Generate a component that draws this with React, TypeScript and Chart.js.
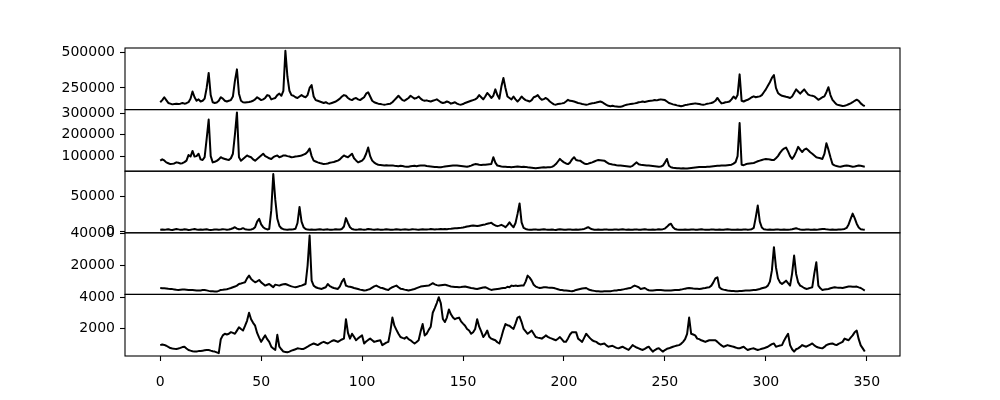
import React, { useEffect, useRef } from "react";
import { Chart, registerables } from "chart.js";

Chart.register(...registerables);

const xTicks = [0, 50, 100, 150, 200, 250, 300, 350];

const yTicks1 = [250000, 500000];
const yTicks2 = [100000, 200000, 300000];
const yTicks3 = [0, 50000];
const yTicks4 = [20000, 40000];
const yTicks5 = [2000, 4000];

const series1 = [
  150000, 165000, 185000, 165000, 145000, 140000, 135000, 138000, 140000, 137000,
  140000, 145000, 140000, 143000, 150000, 175000, 225000, 185000, 160000, 170000,
  155000, 160000, 175000, 250000, 355000, 200000, 150000, 145000, 148000, 160000,
  185000, 175000, 160000, 155000, 160000, 165000, 190000, 300000, 380000, 210000,
  160000, 150000, 148000, 150000, 152000, 155000, 160000, 170000, 185000, 175000,
  165000, 170000, 180000, 200000, 195000, 170000, 175000, 180000, 200000, 210000,
  195000, 230000, 510000, 330000, 230000, 200000, 195000, 185000, 180000, 190000,
  200000, 190000, 185000, 200000, 250000, 270000, 190000, 165000, 160000, 155000,
  150000, 145000, 150000, 142000, 140000, 145000, 150000, 155000, 165000, 175000,
  190000, 200000, 195000, 180000, 170000, 165000, 175000, 180000, 170000, 165000,
  175000, 185000, 210000, 220000, 190000, 160000, 150000, 145000, 140000, 138000,
  135000, 133000, 135000, 138000, 140000, 150000, 165000, 180000, 195000, 180000,
  165000, 160000, 170000, 180000, 195000, 185000, 175000, 180000, 190000, 175000,
  165000, 160000, 163000, 158000, 155000, 160000, 165000, 170000, 160000, 150000,
  145000, 148000, 155000, 150000, 140000, 145000, 150000, 140000, 135000, 133000,
  137000, 145000, 150000, 155000, 160000, 165000, 170000, 180000, 200000, 185000,
  170000, 190000, 215000, 200000, 180000, 195000, 240000, 200000, 175000, 260000,
  320000, 250000, 190000, 180000, 170000, 190000, 170000, 155000, 170000, 190000,
  175000, 165000, 160000, 155000, 165000, 185000, 190000, 200000, 180000, 167000,
  172000, 180000, 170000, 155000, 145000, 135000, 133000, 137000, 140000, 142000,
  145000, 155000, 167000, 160000, 158000, 155000, 150000, 145000, 142000, 138000,
  135000, 132000, 135000, 140000, 143000, 145000, 148000, 152000, 155000, 150000,
  140000, 132000, 125000, 122000, 125000, 122000, 120000, 118000, 118000, 122000,
  128000, 132000, 135000, 138000, 140000, 142000, 145000, 150000, 152000, 155000,
  152000, 155000, 158000, 160000, 162000, 165000, 163000, 167000, 170000, 168000,
  165000, 155000, 145000, 140000, 135000, 132000, 128000, 125000, 122000, 125000,
  130000, 132000, 135000, 138000, 140000, 142000, 140000, 137000, 134000, 132000,
  135000, 140000, 142000, 145000, 150000, 160000, 180000, 160000, 142000, 145000,
  150000, 152000, 155000, 170000, 190000, 175000, 200000, 345000, 160000, 155000,
  162000, 167000, 175000, 185000, 191000, 185000, 188000, 191000, 200000, 220000,
  240000, 265000, 290000, 320000, 340000, 250000, 215000, 203000, 195000, 192000,
  188000, 185000, 180000, 190000, 215000, 240000, 225000, 210000, 225000, 240000,
  220000, 203000, 198000, 195000, 191000, 180000, 167000, 175000, 185000, 191000,
  220000, 255000, 200000, 167000, 150000, 135000, 130000, 127000, 123000, 125000,
  130000, 136000, 142000, 150000, 160000, 168000, 160000, 142000, 130000, 122000,
];

const series2 = [
  79000, 85000, 80000, 71000, 67000, 63000, 64000, 66000, 71000, 69000,
  66000, 67000, 72000, 79000, 105000, 98000, 124000, 98000, 100000, 111000,
  85000, 82000, 95000, 180000, 270000, 100000, 71000, 74000, 78000, 85000,
  95000, 90000, 87000, 84000, 82000, 90000, 111000, 200000, 303000, 95000,
  79000, 87000, 95000, 103000, 98000, 95000, 85000, 79000, 87000, 95000,
  103000, 111000, 100000, 95000, 90000, 87000, 95000, 100000, 103000, 95000,
  98000, 103000, 103000, 100000, 98000, 95000, 96000, 98000, 99000, 101000,
  103000, 107000, 111000, 120000, 135000, 100000, 79000, 75000, 71000, 68000,
  66000, 63000, 64000, 66000, 69000, 71000, 73000, 76000, 79000, 85000,
  95000, 103000, 98000, 95000, 103000, 111000, 90000, 80000, 71000, 75000,
  79000, 90000, 111000, 140000, 100000, 79000, 70000, 64000, 60000, 59000,
  58000, 57000, 58000, 56000, 56000, 57000, 55000, 54000, 53000, 55000,
  54000, 52000, 51000, 51000, 53000, 54000, 55000, 53000, 55000, 56000,
  57000, 56000, 54000, 53000, 52000, 51000, 50000, 49000, 48000, 48000,
  50000, 52000, 53000, 54000, 55000, 56000, 57000, 56000, 55000, 54000,
  53000, 52000, 51000, 53000, 56000, 60000, 63000, 62000, 60000, 59000,
  60000, 60000, 61000, 62000, 63000, 95000, 70000, 56000, 54000, 52000,
  51000, 51000, 50000, 49000, 48000, 50000, 51000, 52000, 51000, 50000,
  51000, 50000, 48000, 47000, 46000, 45000, 44000, 45000, 46000, 47000,
  48000, 47000, 48000, 48000, 50000, 55000, 63000, 75000, 87000, 78000,
  71000, 66000, 63000, 70000, 85000, 95000, 82000, 80000, 79000, 72000,
  66000, 63000, 65000, 68000, 71000, 75000, 79000, 82000, 81000, 80000,
  79000, 72000, 66000, 63000, 61000, 60000, 58000, 57000, 56000, 55000,
  54000, 53000, 52000, 51000, 55000, 63000, 71000, 62000, 60000, 59000,
  58000, 57000, 56000, 55000, 54000, 53000, 52000, 51000, 52000, 56000,
  70000, 87000, 55000, 48000, 46000, 45000, 44000, 44000, 43000, 44000,
  43000, 43000, 44000, 45000, 46000, 47000, 48000, 49000, 49000, 50000,
  50000, 51000, 51000, 52000, 53000, 54000, 55000, 55000, 56000, 56000,
  57000, 58000, 59000, 60000, 65000, 72000, 100000, 254000, 60000, 58000,
  62000, 65000, 66000, 67000, 68000, 72000, 76000, 79000, 82000, 85000,
  87000, 86000, 84000, 82000, 82000, 90000, 100000, 115000, 127000, 135000,
  140000, 122000, 100000, 87000, 100000, 120000, 143000, 130000, 119000, 130000,
  135000, 127000, 118000, 111000, 103000, 95000, 92000, 90000, 87000, 110000,
  160000, 130000, 95000, 63000, 57000, 54000, 52000, 51000, 53000, 55000,
  56000, 55000, 53000, 51000, 52000, 54000, 56000, 55000, 53000, 51000,
];

const series3 = [
  2500, 2800, 2300, 2600, 3100, 2400, 2000, 2700, 3300, 2900,
  2200, 2500, 3000, 2600, 2100, 2400, 2900, 3400, 2800, 2300,
  2600, 2200, 2700, 3000, 2500, 2100, 2400, 2800, 2600, 2300,
  2700, 3200, 2900, 2500, 2700, 3500, 4500, 6000, 4000, 3000,
  3500, 4600, 3200, 2600, 2400, 2800, 3600, 6000, 14000, 18000,
  10000, 6000, 4000, 2800, 3500, 30000, 82000, 45000, 18000, 8000,
  4500, 3200, 2800, 2500, 2700, 2600, 3000, 3800, 12000, 35000,
  14000, 6000, 3500, 2600, 2400, 2700, 2500, 2300, 2800, 3100,
  2600, 2400, 2700, 2900, 2500, 2300, 2600, 3000, 2700, 2800,
  3500, 7000, 19000, 12000, 6000, 3500, 2800, 2500, 2700, 3000,
  2600, 2400, 2800, 3400, 3000, 2600, 2400, 2700, 2900, 2500,
  2300, 2600, 3000, 2800, 2500, 2400, 2700, 3100, 2800, 2400,
  2600, 2900, 2700, 2500, 2800, 3200, 2900, 2600, 2400, 2700,
  3000, 2800, 2600, 2900, 3300, 3000, 2700, 2900, 3200, 3500,
  3000, 3300, 3100, 3600, 3900, 4300, 4600, 4400, 4900, 5200,
  5600, 6200, 7000, 7500, 8000, 8450, 8000, 7600, 8200, 8800,
  9400, 10000, 10900, 11500, 12300, 10000, 8450, 7500, 8300, 9400,
  8000, 6000, 9000, 13000, 9000, 6000, 12000, 25000, 40000, 13000,
  5000, 3500, 2700, 2500, 2300, 2600, 2900, 2500, 2200, 2700,
  3000, 2600, 2300, 2500, 2800, 2400, 2100, 2600, 3000, 2700,
  2400, 2200, 2600, 2900, 2500, 2300, 2700, 2400, 2800, 3100,
  3500, 4800, 6000, 4200, 3000, 2500, 2300, 2700, 2500, 2200,
  2600, 2900, 2400, 2200, 2500, 2800, 2600, 2300, 2700, 3000,
  2600, 2400, 2800, 2500, 2200, 2600, 2900, 2500, 2300, 2700,
  3000, 2600, 2300, 2500, 2800, 2400, 2600, 3000, 2800, 3200,
  4000, 6500, 9500, 11000, 6000, 3500, 2700, 2400, 2200, 2500,
  2800, 2400, 2200, 2600, 2900, 2500, 2300, 2700, 3000, 2600,
  2400, 2200, 2500, 2900, 2600, 2300, 2500, 2800, 2400, 2200,
  2600, 3000, 2700, 2400, 2200, 2500, 2800, 2500, 2300, 2600,
  2900, 2500, 2700, 3200, 5000, 20000, 37000, 14000, 5500, 3200,
  2600, 2400, 2700, 2500, 2300, 2600, 2900, 2500, 2300, 2700,
  2500, 2300, 2600, 3000, 3800, 4500, 3600, 2800, 2500, 2300,
  2600, 2900, 2500, 2300, 2700, 2500, 2800, 3200, 3500, 3300,
  2900, 2600, 2400, 2700, 2500, 2300, 2600, 2800, 3000, 3500,
  5000, 10000, 18000, 25400, 19000, 11000, 5500, 3200, 2600, 2200,
];

const series4 = [
  6000, 5900, 5800, 5700, 5500, 5400, 5300, 5100, 4900, 4800,
  4900, 5000, 5000, 4900, 4800, 4800, 4700, 4600, 4500, 4400,
  4500, 4700, 4800, 4500, 4200, 4000, 3900, 3800, 3750, 4200,
  4800, 4900, 5100, 5200, 5600, 6000, 6500, 6900, 7500, 8500,
  8800, 9200, 9600, 12000, 13750, 11700, 10500, 9600, 10200, 11000,
  9500, 8500, 7500, 8000, 8500, 7500, 6500, 8100, 7800, 7500,
  8000, 8300, 8500, 8000, 7500, 7000, 6700, 6500, 6800, 7200,
  7500, 8000, 8500, 20000, 38750, 10600, 7500, 6500, 6000, 5700,
  5400, 6000, 6500, 8500, 7200, 6500, 6000, 5700, 5400, 7000,
  10000, 11700, 7500, 7000, 6800, 6500, 6000, 5700, 5400, 5000,
  4700, 4400, 4600, 5000, 5400, 6200, 7000, 7500, 6800, 6200,
  6000, 5500, 5000, 4800, 5800, 6500, 7000, 7500, 6500, 5600,
  5400, 5000, 4700, 4400, 4700, 5100, 5400, 5900, 6400, 6900,
  7100, 7300, 7400, 7500, 8200, 9000, 8300, 7800, 7500, 7700,
  7900, 8100, 7700, 7300, 6900, 6800, 6700, 6600, 6500, 6600,
  6800, 6900, 6600, 6300, 6000, 5800, 5600, 5400, 5700, 6000,
  6300, 6500, 5900, 5300, 4800, 5000, 5200, 5400, 5600, 5800,
  6000, 6000, 6800, 6500, 7500, 7200, 7500, 7300, 7400, 7500,
  7500, 10000, 13750, 12500, 10600, 8000, 6900, 6400, 6000, 6200,
  6400, 6500, 6300, 6200, 6100, 6000, 5600, 5200, 4800, 4700,
  4500, 4400, 4300, 4100, 4000, 4300, 4800, 5100, 5400, 5700,
  5900, 6000, 5200, 4700, 4400, 4200, 4000, 3900, 3750, 3800,
  3900, 3950, 4000, 4000, 4200, 4400, 4500, 4700, 4800, 5000,
  5300, 5600, 5800, 6000, 6800, 7500, 7000, 6500, 5400, 5700,
  6000, 5200, 4600, 4400, 4500, 4600, 4700, 4800, 4700, 4600,
  4500, 4400, 4400, 4500, 4600, 4700, 4700, 4800, 5000, 5300,
  5600, 5800, 6000, 5900, 5700, 5600, 5500, 5400, 5600, 5800,
  6000, 6300, 6500, 7500, 9500, 12000, 12700, 6500, 5400, 5000,
  4700, 4400, 4300, 4200, 4100, 4000, 4000, 4100, 4200, 4300,
  4400, 4400, 4500, 4600, 4700, 4800, 5100, 5400, 5800, 6200,
  6500, 7500, 10000, 17000, 31500, 19000, 12000, 9500, 8500, 9500,
  10600, 9000, 7500, 15000, 26250, 14800, 9500, 7500, 6800, 6000,
  5400, 5700, 6100, 6500, 15000, 22100, 7500, 5800, 4800, 5000,
  5200, 5400, 5800, 6200, 6500, 6300, 6200, 6100, 6000, 6300,
  6600, 6900, 6900, 6800, 6800, 6900, 6400, 6000, 5200, 4400,
];

const series5 = [
  917, 958, 930, 875, 800, 730, 700, 680, 667, 700,
  740, 790, 812, 700, 604, 560, 520, 500, 510, 530,
  542, 560, 580, 600, 604, 560, 520, 500, 450, 396,
  1300, 1542, 1646, 1600, 1650, 1750, 1700, 1646, 1850, 2062,
  1950, 1854, 2150, 2479, 3000, 2583, 2350, 2167, 1700, 1400,
  1125, 1350, 1542, 1300, 1125, 812, 700, 604, 1580, 812,
  650, 500, 480, 458, 500, 560, 604, 650, 708, 690,
  670, 667, 740, 812, 900, 960, 1021, 970, 917, 1000,
  1080, 1125, 1070, 1021, 1100, 1180, 1229, 1180, 1125, 1200,
  1280, 1333, 2583, 1700, 1333, 1646, 1450, 1229, 1350, 1450,
  1542, 1021, 1150, 1250, 1333, 1230, 1125, 1160, 1200, 1229,
  917, 1000, 1080, 1125, 1800, 2687, 2167, 1900, 1646, 1437,
  1380, 1333, 1437, 1300, 1229, 1120, 1021, 1120, 1229, 1800,
  2271, 1542, 1646, 1900, 2100, 3000, 3300, 3625, 4000, 3600,
  2600, 2400, 2687, 3208, 2900, 2700, 2583, 2650, 2687, 2450,
  2300, 2167, 1950, 1854, 1646, 1750, 1958, 2583, 2100, 1800,
  1437, 1600, 1854, 1450, 1333, 1280, 1229, 1100, 1021, 1437,
  1900, 2271, 2200, 2167, 2050, 1958, 2300, 2687, 2750, 2400,
  1958, 1800, 1646, 1750, 1854, 1650, 1437, 1400, 1370, 1333,
  1430, 1542, 1450, 1380, 1333, 1280, 1229, 1330, 1437, 1280,
  1125, 1125, 1350, 1600, 1750, 1750, 1750, 1333, 1230, 1125,
  1380, 1646, 1500, 1350, 1229, 1160, 1125, 1021, 958, 990,
  1021, 900, 812, 850, 875, 800, 740, 708, 760, 812,
  740, 670, 604, 760, 917, 830, 760, 708, 650, 604,
  680, 760, 812, 650, 500, 600, 680, 708, 600, 500,
  600, 680, 708, 760, 812, 850, 890, 917, 1000, 1125,
  1300, 1646, 2687, 1646, 1600, 1542, 1333, 1300, 1229, 1180,
  1125, 1180, 1229, 1229, 1229, 1229, 1125, 1000, 900, 812,
  860, 917, 880, 840, 812, 760, 720, 708, 760, 812,
  700, 604, 650, 690, 708, 650, 604, 640, 680, 708,
  760, 812, 900, 980, 1021, 812, 850, 890, 917, 1200,
  1437, 1646, 917, 650, 500, 650, 708, 800, 917, 860,
  812, 880, 950, 1021, 900, 812, 760, 730, 708, 800,
  917, 970, 1000, 1021, 960, 917, 1000, 1060, 1125, 1333,
  1280, 1229, 1400, 1542, 1750, 1854, 1300, 900, 708, 500,
];

const panels = [
  { values: series1, ticks: yTicks1 },
  { values: series2, ticks: yTicks2 },
  { values: series3, ticks: yTicks3 },
  { values: series4, ticks: yTicks4 },
  { values: series5, ticks: yTicks5 },
];

const W = 1000;
const H = 400;
const AX_LEFT = 125;
const AX_RIGHT = 900;
const AX_TOP = 48;
const AX_BOTTOM = 356;
const FONT = { family: "DejaVu Sans", size: 14 };

const boxPlugin = {
  id: "panelBox",
  afterDatasetsDraw(chart: any) {
    const { ctx, chartArea } = chart;
    ctx.save();
    ctx.strokeStyle = "#000";
    ctx.lineWidth = 1.1;
    ctx.strokeRect(
      chartArea.left,
      chartArea.top,
      chartArea.right - chartArea.left,
      chartArea.bottom - chartArea.top
    );
    ctx.restore();
  },
};

export default function App() {
  const r0 = useRef<HTMLCanvasElement>(null);
  const r1 = useRef<HTMLCanvasElement>(null);
  const r2 = useRef<HTMLCanvasElement>(null);
  const r3 = useRef<HTMLCanvasElement>(null);
  const r4 = useRef<HTMLCanvasElement>(null);
  const refs = [r0, r1, r2, r3, r4];

  useEffect(() => {
    const n = series1.length;
    const xPad = 0.05 * (n - 1);
    const xMin = -xPad;
    const xMax = n - 1 + xPad;
    const ph = (AX_BOTTOM - AX_TOP) / panels.length;
    const charts: Chart[] = [];

    panels.forEach((p, k) => {
      const canvas = refs[k].current;
      if (!canvas) return;
      const dmin = Math.min(...p.values);
      const dmax = Math.max(...p.values);
      const m = 0.05 * (dmax - dmin);
      const yMin = dmin - m;
      const yMax = dmax + m;
      const last = k === panels.length - 1;
      const top = AX_TOP + k * ph;
      const bottom = AX_TOP + (k + 1) * ph;

      const chart = new Chart(canvas, {
        type: "line",
        data: {
          datasets: [
            {
              data: p.values.map((v, i) => ({ x: i, y: v })),
              borderColor: "#000",
              borderWidth: 2,
              pointRadius: 0,
              tension: 0,
              fill: false,
              borderJoinStyle: "round",
            },
          ],
        },
        options: {
          responsive: false,
          animation: false,
          devicePixelRatio: 1,
          events: [],
          layout: {
            padding: {
              left: 0,
              right: W - AX_RIGHT,
              top: top,
              bottom: last ? 0 : H - bottom,
            },
          },
          plugins: {
            legend: { display: false },
            tooltip: { enabled: false },
          },
          scales: {
            x: {
              type: "linear",
              display: last,
              min: xMin,
              max: xMax,
              afterBuildTicks: (s: any) => {
                s.ticks = xTicks.map((v) => ({ value: v }));
              },
              afterFit: (s: any) => {
                s.height = last ? H - AX_BOTTOM : 0;
              },
              grid: {
                drawOnChartArea: false,
                drawTicks: true,
                tickLength: 5,
                tickColor: "#000",
                tickWidth: 1.1,
              },
              border: { display: false },
              ticks: {
                color: "#000",
                font: FONT,
                padding: 13,
                maxRotation: 0,
                autoSkip: false,
                callback: (v: any) => String(v),
              },
            },
            y: {
              type: "linear",
              min: yMin,
              max: yMax,
              afterBuildTicks: (s: any) => {
                s.ticks = p.ticks
                  .filter((v) => v >= yMin && v <= yMax)
                  .map((v) => ({ value: v }));
              },
              afterFit: (s: any) => {
                s.width = AX_LEFT;
              },
              grid: {
                drawOnChartArea: false,
                drawTicks: true,
                tickLength: 5,
                tickColor: "#000",
                tickWidth: 1.1,
              },
              border: { display: false },
              ticks: {
                color: "#000",
                font: FONT,
                padding: 5,
                autoSkip: false,
                callback: (v: any) => String(v),
              },
            },
          },
        },
        plugins: [boxPlugin],
      });
      charts.push(chart);
    });

    return () => {
      charts.forEach((c) => c.destroy());
    };
  }, []);

  return (
    <div
      style={{
        position: "fixed",
        left: 0,
        top: 0,
        width: W,
        height: H,
        background: "#fff",
      }}
    >
      {refs.map((r, k) => (
        <canvas
          key={k}
          ref={r}
          width={W}
          height={H}
          style={{ position: "absolute", left: 0, top: 0, width: W, height: H }}
        />
      ))}
    </div>
  );
}
